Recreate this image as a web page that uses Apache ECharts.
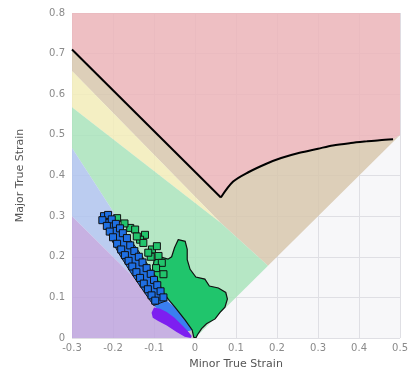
<!DOCTYPE html>
<html>
<head>
<meta charset="utf-8">
<script src="https://cdn.jsdelivr.net/npm/echarts@6/dist/echarts.min.js"></script>
<style>
  html, body { margin: 0; padding: 0; background: #fff; }
  #fld { width: 411px; height: 375px; }
</style>
</head>
<body>
<div id="fld"></div>
<script>
// forming limit curve (major vs minor strain)
var flcLeft = [[-0.3, 0.71], [0.063, 0.346]];
var flcRight = [[0.063, 0.346], [0.093, 0.385], [0.13, 0.408], [0.174, 0.429], [0.21, 0.443],
  [0.255, 0.456], [0.3, 0.466], [0.336, 0.474], [0.38, 0.48], [0.418, 0.484], [0.45, 0.487], [0.483, 0.489]];

// zone boundaries
var tanLow = [[0.5, 0.5], [0.178, 0.178], [0.063, 0.283], [-0.3, 0.657]];
var yellowZone = [[-0.3, 0.657], [0.063, 0.283], [-0.3, 0.568]];
var greenZone = [[-0.3, 0.568], [0.063, 0.283], [0.178, 0.178], [0, 0], [-0.3, 0.468]];
var blueZone = [[-0.3, 0.468], [0, 0], [-0.3, 0.3]];
var purpleZone = [[-0.3, 0.3], [0, 0], [-0.3, 0]];

// measured strain cloud
var greenBlob = [[-0.041, 0.242], [-0.024, 0.238], [-0.019, 0.218], [-0.019, 0.193], [-0.012, 0.169],
  [0.002, 0.15], [0.024, 0.145], [0.035, 0.128], [0.057, 0.123], [0.075, 0.112], [0.079, 0.096],
  [0.073, 0.076], [0.061, 0.063], [0.049, 0.047], [0.028, 0.035], [0.016, 0.023], [0.006, 0.008],
  [0.002, 0.0], [-0.003, 0.002], [-0.007, 0.02], [-0.024, 0.044], [-0.049, 0.076], [-0.065, 0.095],
  [-0.077, 0.112], [-0.093, 0.145], [-0.104, 0.165], [-0.1, 0.19], [-0.086, 0.2], [-0.066, 0.194],
  [-0.057, 0.2], [-0.05, 0.222]];
var blueBand = [[-0.231, 0.303], [-0.207, 0.301], [-0.178, 0.267], [-0.146, 0.226], [-0.118, 0.185],
  [-0.093, 0.145], [-0.077, 0.112], [-0.069, 0.092], [-0.101, 0.08], [-0.126, 0.116], [-0.154, 0.157],
  [-0.187, 0.21], [-0.219, 0.271]];
var blueTail = [[-0.101, 0.08], [-0.069, 0.092], [-0.049, 0.076], [-0.024, 0.044], [-0.006, 0.02],
  [-0.02, 0.016], [-0.05, 0.042], [-0.08, 0.062]];
var purpleBlob = [[-0.1, 0.075], [-0.085, 0.072], [-0.069, 0.064], [-0.05, 0.05], [-0.035, 0.035],
  [-0.02, 0.02], [-0.008, 0.005], [-0.01, 0.0], [-0.025, 0.003], [-0.045, 0.015], [-0.069, 0.031],
  [-0.09, 0.042], [-0.103, 0.05], [-0.106, 0.062]];
var greyBlob = [[-0.018, 0.028], [-0.004, 0.03], [0.002, 0.008], [-0.002, 0.0], [-0.012, 0.0]];

var blueSquares = [[-0.222, 0.3], [-0.212, 0.303], [-0.226, 0.29], [-0.203, 0.292], [-0.215, 0.276],
  [-0.193, 0.281], [-0.208, 0.262], [-0.183, 0.27], [-0.2, 0.248], [-0.176, 0.258], [-0.19, 0.232],
  [-0.166, 0.246], [-0.18, 0.218], [-0.158, 0.228], [-0.171, 0.204], [-0.148, 0.214], [-0.162, 0.19],
  [-0.137, 0.2], [-0.153, 0.176], [-0.128, 0.186], [-0.143, 0.162], [-0.118, 0.172], [-0.134, 0.148],
  [-0.108, 0.158], [-0.125, 0.134], [-0.1, 0.143], [-0.115, 0.12], [-0.092, 0.13], [-0.106, 0.105],
  [-0.084, 0.115], [-0.097, 0.092], [-0.077, 0.1]];
var greenSquares = [[-0.19, 0.295], [-0.158, 0.271], [-0.146, 0.267], [-0.122, 0.254], [-0.134, 0.242],
  [-0.105, 0.218], [-0.093, 0.226], [-0.089, 0.202], [-0.108, 0.2], [-0.081, 0.185], [-0.095, 0.172],
  [-0.077, 0.157], [-0.126, 0.234], [-0.114, 0.21], [-0.142, 0.25], [-0.172, 0.282]];

var pinkZone = [[-0.3, 0.8], [0.5, 0.8], [0.5, 0.5]].concat(flcRight.slice().reverse(), [flcLeft[0]]);
var tanZone = flcLeft.concat(flcRight.slice(1), tanLow);

function poly(pts, fill, stroke, lw) {
  return {
    type: 'custom',
    coordinateSystem: 'cartesian2d',
    silent: true,
    clip: true,
    data: pts,
    renderItem: function (params, api) {
      if (params.dataIndex !== 0) return null;
      return {
        type: 'polygon',
        shape: { points: pts.map(function (p) { return api.coord(p); }) },
        style: { fill: fill, stroke: stroke || null, lineWidth: lw || 0 }
      };
    }
  };
}

function squares(pts, color) {
  return {
    type: 'scatter',
    data: pts,
    symbol: 'rect',
    symbolSize: 7,
    silent: true,
    itemStyle: { color: color, borderColor: '#111', borderWidth: 1, opacity: 1 }
  };
}

function flc(pts, smooth) {
  return {
    type: 'line',
    data: pts,
    symbol: 'none',
    silent: true,
    smooth: smooth,
    lineStyle: { color: '#000', width: 2 }
  };
}

var chart = echarts.init(document.getElementById('fld'));
chart.setOption({
  animation: false,
  grid: { left: 72, right: 10, top: 13, bottom: 34, show: true, backgroundColor: '#f7f7f9', borderWidth: 0 },
  xAxis: {
    type: 'value', min: -0.3, max: 0.5, interval: 0.1,
    name: 'Minor True Strain', nameLocation: 'middle', nameGap: 21,
    nameTextStyle: { color: '#555', fontSize: 11, fontFamily: 'DejaVu Sans' },
    axisLine: { show: false }, axisTick: { show: false },
    axisLabel: { color: '#8a8a8a', fontSize: 10, fontFamily: 'DejaVu Sans', margin: 5 },
    splitLine: { lineStyle: { color: '#dfdfe4' } }
  },
  yAxis: {
    type: 'value', min: 0, max: 0.8, interval: 0.1,
    name: 'Major True Strain', nameLocation: 'middle', nameGap: 46,
    nameTextStyle: { color: '#555', fontSize: 11, fontFamily: 'DejaVu Sans' },
    axisLine: { show: false }, axisTick: { show: false },
    axisLabel: { color: '#8a8a8a', fontSize: 10, fontFamily: 'DejaVu Sans', margin: 7 },
    splitLine: { lineStyle: { color: '#dfdfe4' } }
  },
  series: [
    poly(pinkZone, 'rgba(236,181,186,0.85)'),
    poly(tanZone, 'rgba(216,200,174,0.85)'),
    poly(yellowZone, 'rgba(243,237,186,0.85)'),
    poly(greenZone, 'rgba(170,228,188,0.85)'),
    poly(blueZone, 'rgba(176,196,238,0.85)'),
    poly(purpleZone, 'rgba(190,164,222,0.85)'),
    poly(greyBlob, '#c4c4c8'),
    poly(blueTail, '#3a7ff0'),
    poly(purpleBlob, '#7d1ff0'),
    poly(blueBand, '#1f6fe3', '#111', 1),
    poly(greenBlob, '#20c56c', '#111', 1.2),
    squares(greenSquares, '#22c46c'),
    squares(blueSquares, '#1f6fe3'),
    flc(flcLeft, false),
    flc(flcRight, 0.3)
  ]
});
</script>
</body>
</html>
